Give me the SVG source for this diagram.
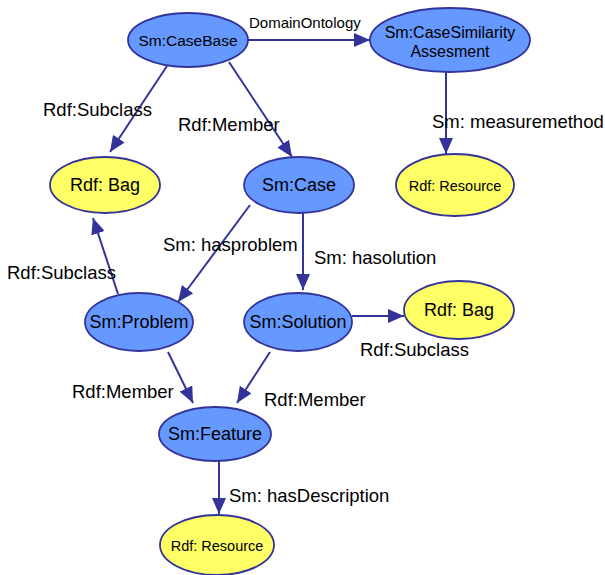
<svg xmlns="http://www.w3.org/2000/svg" width="605" height="575" viewBox="0 0 605 575">
  <style>
    .cls { fill: #6699ff; stroke: #333399; stroke-width: 1.8; }
    .lit { fill: #ffff66; stroke: #333399; stroke-width: 1.8; }
    .nt { font-family: "Liberation Sans", Arial, sans-serif; font-size: 18px; fill: #000; text-anchor: middle; }
    .el { font-family: "Liberation Sans", Arial, sans-serif; font-size: 18.5px; fill: #000; }
    .edge { stroke: #333399; stroke-width: 2; fill: none; marker-end: url(#arrow); }
  </style>
  <defs>
    <marker id="arrow" markerUnits="userSpaceOnUse" markerWidth="16" markerHeight="14" viewBox="0 0 16 14" refX="16" refY="7" orient="auto">
      <path d="M0,0 L16,7 L0,14 z" fill="#333399"/>
    </marker>
  </defs>

  <rect width="605" height="575" fill="#ffffff"/>

  <g id="connectors">
    <line class="edge" x1="248" y1="40" x2="370" y2="40"/>
    <line class="edge" x1="167" y1="66" x2="110" y2="152"/>
    <line class="edge" x1="229" y1="62" x2="292" y2="157"/>
    <line class="edge" x1="446" y1="72" x2="446" y2="154"/>
    <line class="edge" x1="250" y1="205" x2="178" y2="302"/>
    <line class="edge" x1="303" y1="213" x2="303" y2="290"/>
    <line class="edge" x1="118" y1="294" x2="93" y2="218"/>
    <line class="edge" x1="352" y1="316" x2="404" y2="316"/>
    <line class="edge" x1="168" y1="352" x2="193" y2="403"/>
    <line class="edge" x1="270" y1="352" x2="237" y2="403"/>
    <line class="edge" x1="219" y1="461" x2="219" y2="514"/>

    <text class="el" x="249" y="28" style="font-size:15px">DomainOntology</text>
    <text class="el" x="43" y="116">Rdf:Subclass</text>
    <text class="el" x="178" y="131">Rdf:Member</text>
    <text class="el" x="432" y="128">Sm: measuremethod</text>
    <text class="el" x="163" y="251">Sm: hasproblem</text>
    <text class="el" x="314" y="264">Sm: hasolution</text>
    <text class="el" x="7" y="279">Rdf:Subclass</text>
    <text class="el" x="360" y="356">Rdf:Subclass</text>
    <text class="el" x="72" y="398">Rdf:Member</text>
    <text class="el" x="264" y="406">Rdf:Member</text>
    <text class="el" x="229" y="502">Sm: hasDescription</text>
  </g>

  <g id="casebase">
    <ellipse class="cls" cx="188" cy="40" rx="60" ry="27"/>
    <text class="nt" x="188" y="46" style="font-size:15.5px">Sm:CaseBase</text>
  </g>
  <g id="casesimilarity">
    <ellipse class="cls" cx="450" cy="40" rx="80" ry="32"/>
    <text class="nt" x="450" y="38" style="font-size:16px">Sm:CaseSimilarity</text>
    <text class="nt" x="450" y="57" style="font-size:16px">Assesment</text>
  </g>
  <g id="bag1">
    <ellipse class="lit" cx="105" cy="185" rx="55" ry="28"/>
    <text class="nt" x="105" y="191">Rdf: Bag</text>
  </g>
  <g id="case">
    <ellipse class="cls" cx="299" cy="185" rx="55" ry="28"/>
    <text class="nt" x="299" y="191">Sm:Case</text>
  </g>
  <g id="resource1">
    <ellipse class="lit" cx="455" cy="185" rx="59" ry="31"/>
    <text class="nt" x="455" y="191" style="font-size:14.5px">Rdf: Resource</text>
  </g>
  <g id="problem">
    <ellipse class="cls" cx="139" cy="322" rx="54" ry="29"/>
    <text class="nt" x="139" y="328">Sm:Problem</text>
  </g>
  <g id="solution">
    <ellipse class="cls" cx="298" cy="322" rx="54" ry="29"/>
    <text class="nt" x="298" y="328">Sm:Solution</text>
  </g>
  <g id="bag2">
    <ellipse class="lit" cx="459" cy="310" rx="55" ry="29"/>
    <text class="nt" x="459" y="316">Rdf: Bag</text>
  </g>
  <g id="feature">
    <ellipse class="cls" cx="215" cy="434" rx="56" ry="27"/>
    <text class="nt" x="215" y="440">Sm:Feature</text>
  </g>
  <g id="resource2">
    <ellipse class="lit" cx="217" cy="545" rx="57" ry="30"/>
    <text class="nt" x="217" y="551" style="font-size:14.5px">Rdf: Resource</text>
  </g>
</svg>
